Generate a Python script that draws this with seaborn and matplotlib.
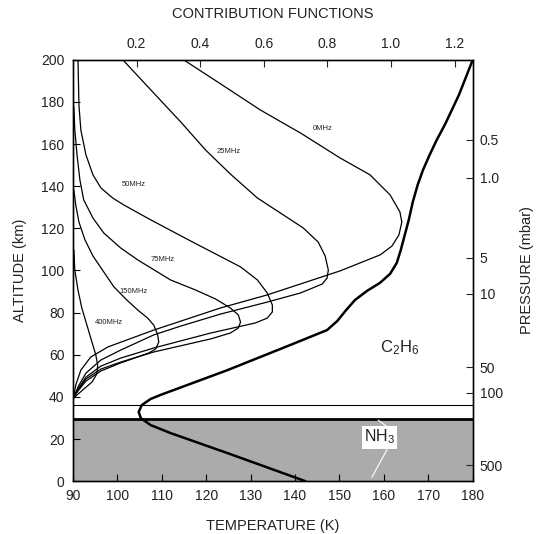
import numpy as np
import pandas as pd
import matplotlib
matplotlib.use('Agg')
import matplotlib.pyplot as plt
import seaborn as sns

# temperature profile (K vs km)
temp_k = [142.3, 124.8, 112.0, 107.5, 105.3, 104.8, 105.5, 107.5, 109.7, 124.8, 138.9, 147.2,
          149.5, 151.5, 153.5, 156.2, 159.1, 161.4, 162.9, 163.8, 164.7, 165.6, 166.5, 167.6,
          168.8, 170.3, 171.9, 173.7, 175.3, 176.9, 178.4, 180.0]
temp_alt = [0, 13.3, 22.8, 26.6, 29.9, 32.8, 36.1, 39.0, 40.9, 52.7, 64.6, 71.7,
            76, 81.2, 86, 90.3, 94.1, 98.4, 103.6, 109.7, 116.9, 124, 132.5, 140.6,
            147.7, 154.9, 162, 169.1, 176.2, 183.4, 191.4, 200]

# contribution functions (value vs km)
cf_0 = [0.348, 0.464, 0.589, 0.715, 0.840, 0.934, 0.997, 1.028, 1.034, 1.025, 1.003, 0.966,
        0.903, 0.840, 0.611, 0.464, 0.254, 0.11, 0.056, 0.025, 0.009, 0.003]
alt_0 = [200, 188.6, 176.2, 165.3, 153.4, 145.4, 135.9, 127.8, 123, 116.9, 111.6, 107.4,
         103.6, 99.8, 88.4, 82.2, 71.7, 63.7, 58.9, 52.7, 45.6, 40.9]
cf_25 = [0.157, 0.245, 0.339, 0.417, 0.495, 0.580, 0.652, 0.724, 0.771, 0.793, 0.803, 0.799,
         0.784, 0.746, 0.715, 0.611, 0.464, 0.339, 0.254, 0.15, 0.088, 0.041, 0.016, 0.003]
alt_25 = [200, 185.7, 170.5, 157.2, 145.8, 134.4, 127.3, 120.2, 113.5, 106.9, 100.2, 96.4,
          93.6, 91.2, 89.3, 85, 79.3, 73.6, 69.4, 62.2, 57.5, 51.3, 44.7, 39.9]
cf_50 = [0.016, 0.019, 0.025, 0.041, 0.063, 0.088, 0.125, 0.160, 0.245, 0.370, 0.527, 0.580,
         0.611, 0.627, 0.627, 0.611, 0.574, 0.433, 0.254, 0.15, 0.088, 0.041, 0.016, 0.003]
alt_50 = [200, 178.6, 166.7, 154.9, 145.4, 139.2, 134.4, 131.1, 124, 114, 101.7, 95.5,
          89.3, 83.6, 80.3, 77.4, 75.1, 70.3, 63.2, 58.4, 54.6, 49.4, 43.7, 39.9]
cf_75 = [0.003, 0.006, 0.013, 0.022, 0.034, 0.063, 0.097, 0.150, 0.204, 0.307, 0.386, 0.448,
         0.495, 0.520, 0.527, 0.520, 0.495, 0.433, 0.254, 0.15, 0.088, 0.041, 0.016, 0.003]
alt_75 = [177.7, 166.7, 154.9, 143, 133.5, 124.9, 117.8, 110.7, 105, 95.5, 90.7, 86.5,
          82.2, 78.9, 75.5, 72.7, 70.3, 67.5, 61.3, 56.5, 53.2, 48.5, 43.2, 39.9]
cf_150 = [0.003, 0.009, 0.019, 0.038, 0.063, 0.097, 0.129, 0.166, 0.204, 0.235, 0.254, 0.266,
          0.270, 0.260, 0.238, 0.15, 0.088, 0.041, 0.016, 0.003]
alt_150 = [138.2, 131.1, 123, 114.5, 106.9, 99.3, 92.2, 86.5, 81.2, 77.4, 74.1, 69.8,
           66, 62.7, 60.8, 56.1, 52.3, 47.5, 42.8, 39.9]
cf_400 = [0.003, 0.006, 0.016, 0.028, 0.044, 0.060, 0.072, 0.078, 0.075, 0.060, 0.034, 0.013, 0.003]
alt_400 = [109.7, 100.2, 90.7, 82.2, 74.1, 66, 59.9, 55.1, 50.8, 47, 43.7, 40.9, 39.4]

cf_names = ['0MHz', '25MHz', '50MHz', '75MHz', '150MHz', '400MHz']
cf_label_t = [146.3, 125.0, 103.7, 110.2, 103.7, 98.1]
cf_label_alt = [167.2, 156.3, 140.6, 105, 89.8, 75.5]

pressure_labels = ['0.5', '1.0', '5', '10', '50', '100', '500']
pressure_alt = [162, 144, 106, 89, 54, 42, 7.6]

cloud_top = 29.5
tropo_line = 36

sns.set_style('white')
plt.rcParams['font.family'] = ['Liberation Sans', 'DejaVu Sans']
plt.rcParams['mathtext.default'] = 'regular'
txt = '#222222'

fig = plt.figure(figsize=(5.36, 5.34), dpi=100)
ax = fig.add_axes([0.136, 0.099, 0.746, 0.789])

ax.axhspan(0, cloud_top, color='#ababab', lw=0, zorder=0)
ax.axhline(cloud_top, color='k', lw=2.0)
ax.axhline(tropo_line, color='k', lw=0.8)

temp = pd.DataFrame({'T': temp_k, 'alt': temp_alt})
sns.lineplot(data=temp, x='T', y='alt', sort=False, estimator=None, ax=ax, color='k', lw=1.8)

ax.set_xlim(90, 180)
ax.set_ylim(0, 200)
ax.set_xticks(np.arange(90, 181, 10))
ax.set_yticks(np.arange(0, 201, 20))
ax.tick_params(direction='in', length=5, width=0.8, colors='k', labelcolor=txt, labelsize=10, pad=6)
ax.set_xlabel('TEMPERATURE (K)', fontsize=10.5, color=txt, labelpad=11)
ax.set_ylabel('ALTITUDE (km)', fontsize=10.5, color=txt, labelpad=10)

for i, name in enumerate(cf_names):
    ax.text(cf_label_t[i], cf_label_alt[i], name, fontsize=5.5, color=txt, ha='center', va='center')

ax.text(163.6, 63.2, 'C$_2$H$_6$', fontsize=12, color=txt, ha='center', va='center')
ax.plot([158.7, 161.8], [29, 24.2], color='white', lw=0.8)
ax.plot([160.9, 157.3], [15.7, 1.9], color='white', lw=0.8)
ax.text(159.1, 20.9, 'NH$_3$', fontsize=11.5, color=txt, ha='center', va='center',
        bbox=dict(facecolor='white', edgecolor='none', pad=1.5))

# contribution functions on top axis
axc = ax.twiny()
curves = [(cf_0, alt_0), (cf_25, alt_25), (cf_50, alt_50), (cf_75, alt_75),
          (cf_150, alt_150), (cf_400, alt_400)]
for cf, alt in curves:
    sns.lineplot(x=cf, y=alt, sort=False, estimator=None, ax=axc, color='k', lw=0.9)
axc.set_xlim(0, 1.257)
axc.set_ylim(0, 200)
axc.set_xticks([0.2, 0.4, 0.6, 0.8, 1.0, 1.2])
axc.set_xticklabels(['0.2', '0.4', '0.6', '0.8', '1.0', '1.2'])
axc.tick_params(direction='in', length=5, width=0.8, labelcolor=txt, labelsize=10, pad=6)
axc.set_xlabel('CONTRIBUTION FUNCTIONS', fontsize=10.5, color=txt, labelpad=14)
axc.set_ylabel('')

# pressure axis on the right
axp = ax.twinx()
axp.set_ylim(0, 200)
axp.set_yticks(pressure_alt)
axp.set_yticklabels(pressure_labels)
axp.tick_params(direction='in', length=5, width=0.8, labelcolor=txt, labelsize=10, pad=5)
axp.set_ylabel('PRESSURE (mbar)', fontsize=10.5, color=txt, labelpad=12)

for a in (ax, axc, axp):
    for s in a.spines.values():
        s.set_color('k')
        s.set_linewidth(0.9)

fig.savefig('out.png', dpi=100)
